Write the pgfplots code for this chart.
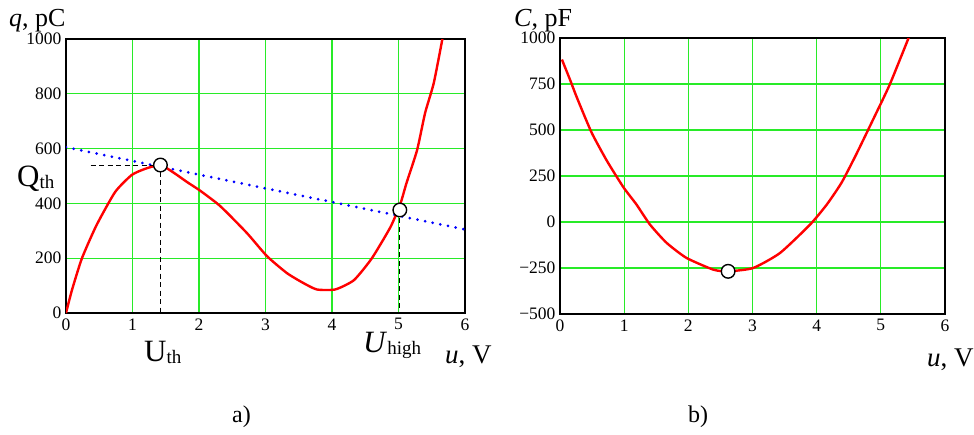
\documentclass[border=0pt]{standalone}
\usepackage{fontspec}
\setmainfont{Liberation Serif}
\usepackage{pgfplots}
\pgfplotsset{compat=1.18}

\definecolor{gridgreen}{RGB}{40,235,40}
\newcommand{\sub}[1]{\raisebox{-0.08em}{\fontsize{19}{19}\selectfont #1}}

\pgfplotsset{
  mcad/.style={
    scale only axis,
    xmin=0, xmax=6,
    xtick={0,1,...,6},
    grid=major,
    major grid style={gridgreen, line width=1.1pt},
    axis line style={black, line width=1.4pt},
    major tick length=0pt,
    /pgf/number format/assume math mode=true,
    /pgf/number format/1000 sep={},
    tick label style={font=\fontsize{17.5}{17.5}\selectfont},
    xticklabel style={yshift=-2pt},
    yticklabel style={xshift=-1pt},
  },
}

\begin{document}
\begin{tikzpicture}[x=1pt,y=1pt]
\useasboundingbox (0,0) rectangle (974,-434);

% a) charge curve
\begin{axis}[mcad,
  at={(66pt,-313pt)}, anchor=south west,
  width=399pt, height=274pt,
  ymin=0, ymax=1000,
  ytick={0,200,...,1000},
]
\addplot[blue, line width=3pt, line cap=round, dash pattern=on 0pt off 7.8pt]
  coordinates {(0,605) (6,305)};
\addplot[red, line width=2.4pt, smooth, tension=0.35] coordinates {
  (0,0) (0.09,84) (0.24,200) (0.46,321) (0.74,442) (0.99,504) (1.2,527)
  (1.42,540) (1.62,512) (1.82,478) (2.02,446) (2.32,390) (2.72,292)
  (3.02,208) (3.32,146) (3.55,112) (3.77,86) (4.05,86) (4.33,120) (4.6,200)
  (4.88,314) (5.03,400) (5.12,474) (5.28,595) (5.4,730) (5.53,839) (5.66,1000)
};
\addplot[black, line width=1pt, dash pattern=on 5pt off 3.5pt, forget plot, clip=false]
  coordinates {(0.37,540) (1.42,540) (1.42,-75)};
\addplot[black, line width=1pt, dash pattern=on 5pt off 3.5pt, forget plot, clip=false]
  coordinates {(5.02,376) (5.02,-55)};
\addplot[only marks, mark=*, mark size=6.8pt, clip=false,
  mark options={fill=white, draw=black, line width=1.4pt}]
  coordinates {(1.42,540) (5.02,376)};
\end{axis}

% b) capacitance curve
\begin{axis}[mcad,
  at={(560pt,-314pt)}, anchor=south west,
  width=385pt, height=276pt,
  ymin=-500, ymax=1000,
  ytick={-500,-250,...,1000},
  yticklabels={−500,−250,0,250,500,750,1000},
]
\addplot[red, line width=2.4pt, smooth, tension=0.35] coordinates {
  (0.03,883) (0.16,770) (0.26,679) (0.49,488) (0.73,333) (0.99,188)
  (1.19,96) (1.40,-13) (1.66,-113) (1.97,-195) (2.39,-259) (2.62,-268)
  (3.01,-250) (3.43,-168) (3.90,-13) (4.16,96) (4.39,215) (4.62,370)
  (4.91,579) (5.14,748) (5.43,998) (5.46,1020)
};
\addplot[only marks, mark=*, mark size=6.8pt, clip=false,
  mark options={fill=white, draw=black, line width=1.4pt}]
  coordinates {(2.62,-268)};
\end{axis}

% labels
\node[anchor=base west, font=\fontsize{26}{26}\selectfont, inner sep=0pt]
  at (9,-26) {\textit{q}, pC};
\node[anchor=base west, font=\fontsize{31}{31}\selectfont, inner sep=0pt]
  at (17,-186) {Q\sub{th}};
\node[anchor=base west, font=\fontsize{31}{31}\selectfont, inner sep=0pt]
  at (144,-361) {U\sub{th}};
\node[anchor=base west, font=\fontsize{31}{31}\selectfont, inner sep=0pt]
  at (363,-352) {\textit{U}\sub{high}};
\node[anchor=base west, font=\fontsize{27}{27}\selectfont, inner sep=0pt]
  at (445,-363) {\textit{u}, V};
\node[anchor=base west, font=\fontsize{26}{26}\selectfont, inner sep=0pt]
  at (514,-26) {\textit{C}, pF};
\node[anchor=base west, font=\fontsize{27}{27}\selectfont, inner sep=0pt]
  at (927,-366) {\textit{u}, V};
\node[anchor=base west, font=\fontsize{24}{24}\selectfont, inner sep=0pt]
  at (232,-422) {a)};
\node[anchor=base west, font=\fontsize{24}{24}\selectfont, inner sep=0pt]
  at (688,-422) {b)};
\end{tikzpicture}
\end{document}
